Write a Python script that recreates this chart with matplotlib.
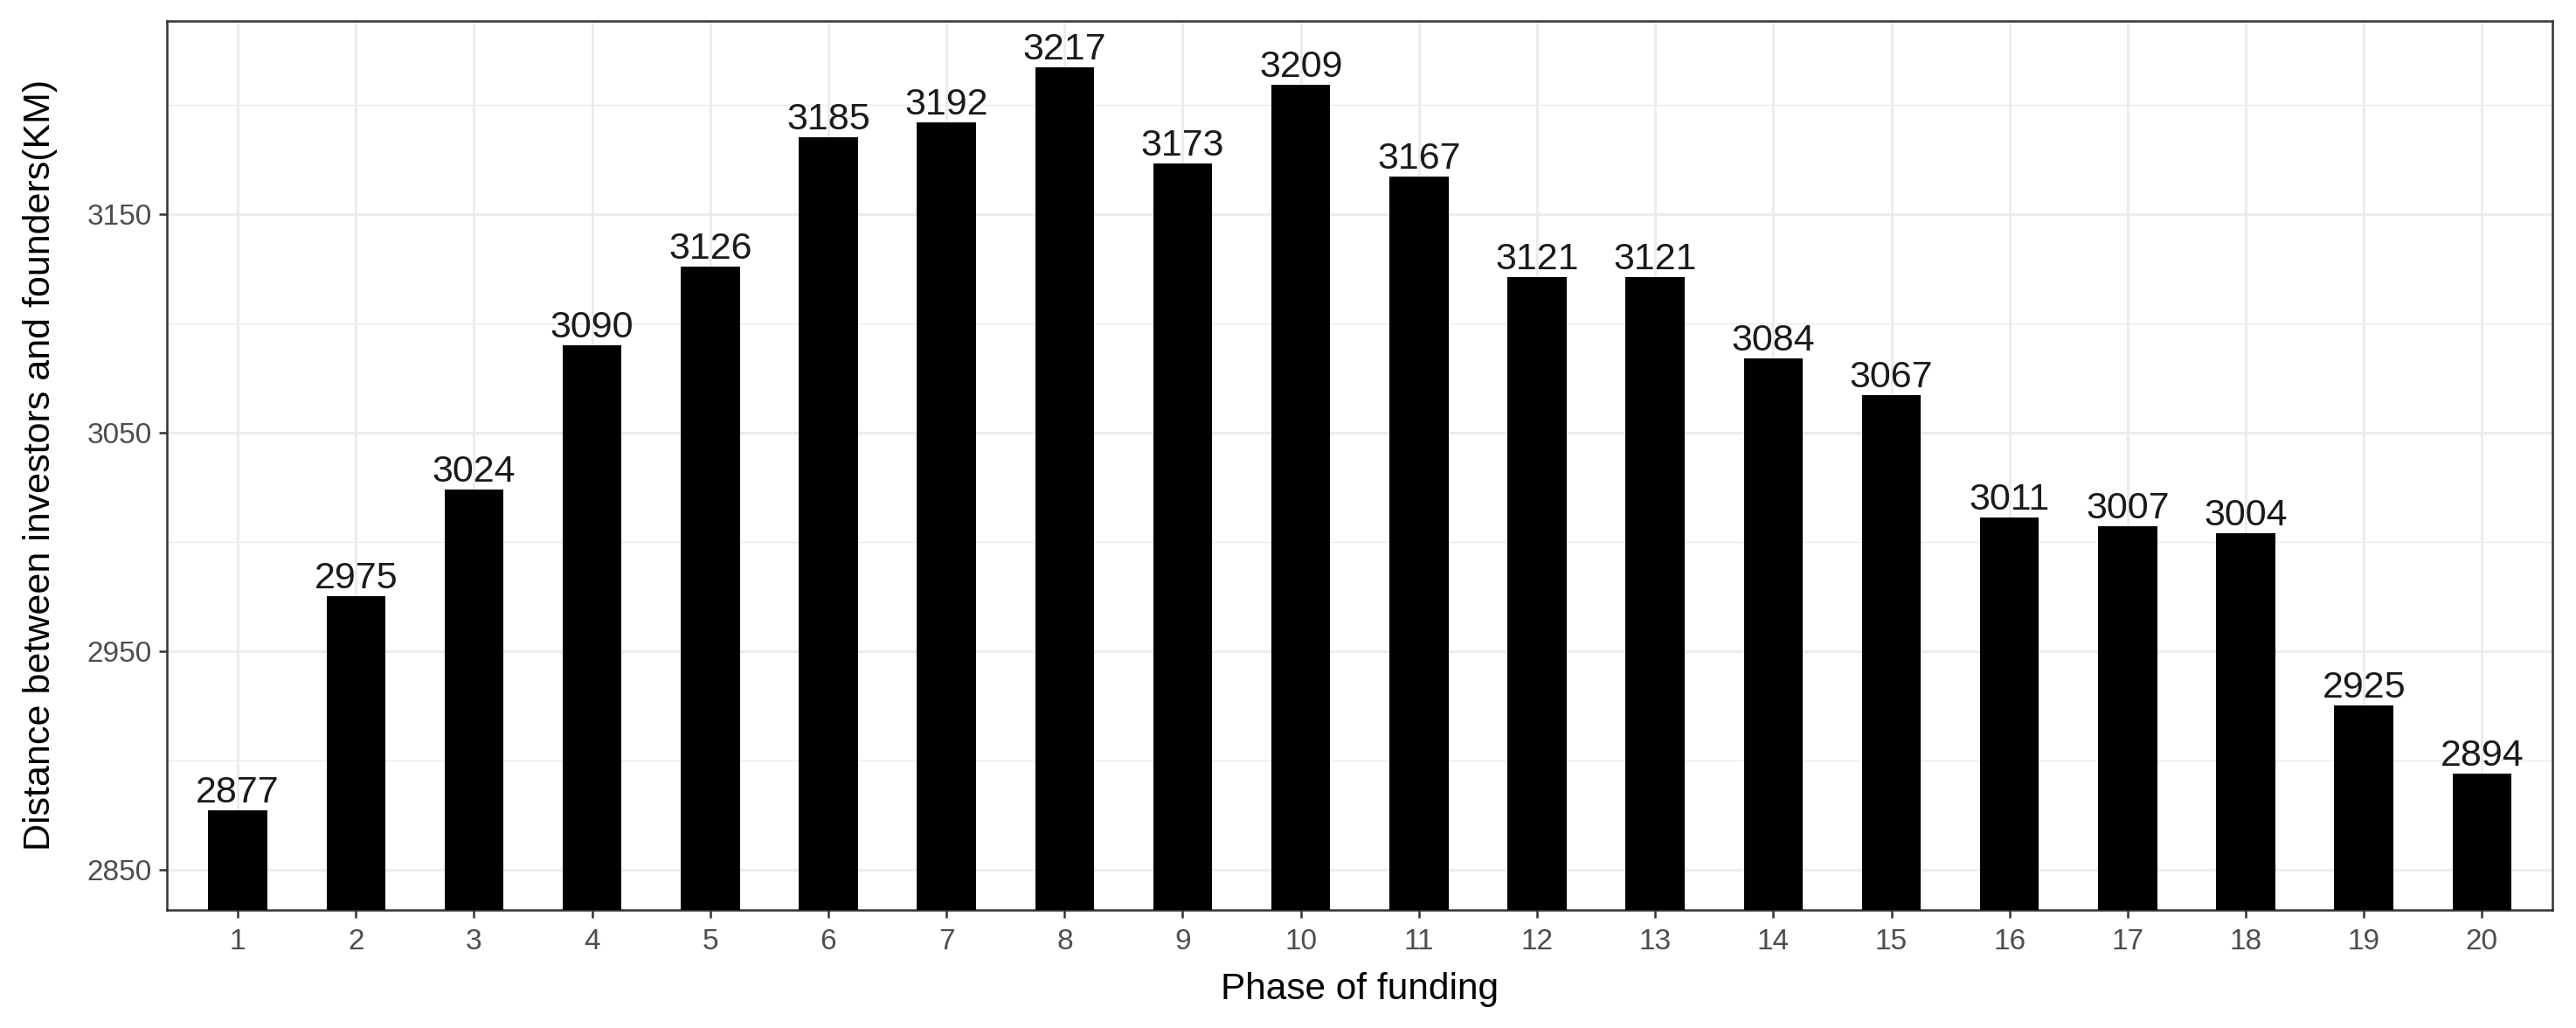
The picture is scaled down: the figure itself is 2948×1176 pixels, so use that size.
import matplotlib.pyplot as plt
import numpy as np

phases = [str(i) for i in range(1, 21)]
distance = [2877, 2975, 3024, 3090, 3126, 3185, 3192, 3217, 3173, 3209,
            3167, 3121, 3121, 3084, 3067, 3011, 3007, 3004, 2925, 2894]
y_major = [2850, 2950, 3050, 3150]
y_minor = [2900, 3000, 3100, 3200]

plt.rcParams['font.family'] = ['Liberation Sans', 'DejaVu Sans']

fig = plt.figure(figsize=(29.48, 11.76), dpi=100)
ax = fig.add_axes([0.0648, 0.115, 0.9262, 0.865])

x = np.arange(len(phases))
ax.bar(x, distance, width=0.5, color='black', zorder=3)
for xi, v in zip(x, distance):
    ax.annotate(str(v), (xi, v), xytext=(0, 6.5), textcoords='offset points',
                ha='center', va='baseline', fontsize=31, color='#1a1a1a', zorder=4)

ax.set_xlim(-0.6, len(phases) - 0.4)
ax.set_ylim(2831.5, 3238.5)
ax.set_xticks(x)
ax.set_xticklabels(phases)
ax.set_yticks(y_major)
ax.set_yticks(y_minor, minor=True)

ax.grid(True, which='major', color='#EBEBEB', linewidth=2.0, zorder=0)
ax.grid(True, which='minor', axis='y', color='#EBEBEB', linewidth=1.0, zorder=0)
ax.set_axisbelow(True)

for s in ax.spines.values():
    s.set_color('#333333')
    s.set_linewidth(1.8)

ax.tick_params(axis='both', which='major', labelsize=24, labelcolor='#4D4D4D',
               color='#333333', length=6.5, width=1.8, pad=6)
ax.tick_params(axis='x', which='major', pad=9)
ax.tick_params(axis='y', which='minor', length=0)

ax.set_xlabel('Phase of funding', fontsize=30.5, color='black', va='center')
ax.xaxis.set_label_coords(0.5, -0.09)
ax.set_ylabel('Distance between investors and founders(KM)', fontsize=31, color='black', va='center')
ax.yaxis.set_label_coords(-0.053, 0.5)

fig.savefig('out.png', dpi=100, facecolor='white')
